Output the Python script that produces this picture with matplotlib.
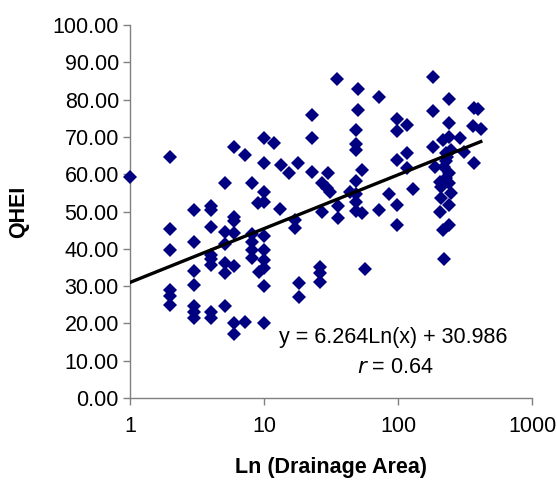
import matplotlib
matplotlib.use("Agg")
import matplotlib.pyplot as plt
import numpy as np

# Drainage area (sq. mi.) and QHEI score
drainage_area = [
    1,
    2, 2, 2, 2, 2, 2,
    3, 3, 3, 3, 3, 3, 3,
    4, 4, 4, 4, 4, 4, 4, 4,
    5.1, 5.1, 5.1, 5.1, 5.1, 5.1,
    6, 6, 6, 6, 6, 6, 6,
    7.2, 7.2,
    8.2, 8.2, 8.2, 8.2, 8.2,
    9, 9.2,
    10, 10, 10, 10, 10, 10, 10, 10, 10, 10,
    11.9, 13.2, 13.4, 15.4, 17, 17, 17.8, 18.3, 18.3,
    22.9, 22.9, 22.9, 26.3, 26.3, 26.3, 27, 27, 29.7, 30, 31,
    34.8, 35.6, 35.6, 43.5,
    49, 49, 49, 49, 49, 49, 49, 50, 50,
    53.9, 53.9, 57, 72.6, 72.6, 86,
    98, 98, 98, 98, 98,
    117, 117, 117, 130,
    183, 183, 183, 188, 205, 205, 210, 210,
    216, 216, 222, 222, 229, 230, 230, 232,
    239, 239, 239, 242, 242, 242, 242, 250, 250,
    288, 312, 360, 372, 372, 394, 415,
]
qhei = [
    59.2,
    64.5, 45.2, 39.7, 29.0, 27.3, 25.0,
    50.4, 41.9, 34.1, 30.3, 24.7, 23.1, 21.4,
    51.5, 50.4, 45.8, 38.3, 37.3, 35.7, 23.1, 21.4,
    57.6, 44.6, 41.3, 36.3, 33.4, 24.7,
    67.4, 48.6, 47.4, 44.3, 35.4, 20.0, 17.1,
    65.1, 20.5,
    57.6, 44.1, 41.9, 39.7, 37.5,
    52.2, 33.9,
    69.6, 62.9, 55.3, 52.6, 43.4, 39.7, 37.0, 34.8, 30.0, 20.0,
    68.3, 50.6, 62.5, 60.2, 47.7, 45.5, 62.9, 30.7, 27.0,
    75.9, 69.6, 60.7, 35.0, 33.4, 31.2, 57.6, 50.0, 56.2, 60.2, 55.3,
    85.4, 51.5, 48.2, 55.3,
    71.8, 68.1, 66.5, 58.1, 54.7, 52.6, 50.2, 82.8, 77.2,
    61.0, 49.5, 34.5, 80.6, 50.4, 54.8,
    74.7, 71.6, 63.8, 51.7, 46.4,
    73.1, 65.6, 61.6, 55.9,
    86.0, 77.0, 67.4, 62.0, 58.0, 50.0, 56.7, 53.5,
    69.2, 45.0, 62.0, 37.2, 65.6, 63.5, 59.0, 64.5,
    80.2, 73.8, 69.9, 60.2, 57.6, 51.7, 46.4, 66.5, 55.0,
    69.6, 66.0, 72.8, 77.7, 62.9, 77.4, 72.0,
]

slope = 6.264
intercept = 30.986
x_ticks = [1, 10, 100, 1000]
x_tick_labels = ["1", "10", "100", "1000"]
y_ticks = [0, 10, 20, 30, 40, 50, 60, 70, 80, 90, 100]

plt.rcParams['font.family'] = ['Liberation Sans', 'DejaVu Sans']

fig = plt.figure(figsize=(5.57, 4.82), dpi=100)
ax = fig.add_axes([130/557, 1-398/482, (532-130)/557, (398-25)/482])

ax.plot(drainage_area, qhei, linestyle='none', marker='D', markersize=7,
        color='#000080', markeredgewidth=0, zorder=3, clip_on=False)

xf = np.linspace(np.log(1), np.log(max(drainage_area)), 50)
ax.plot(np.exp(xf), slope * xf + intercept, color='black', linewidth=2.4, zorder=4)

ax.set_xscale('log')
ax.set_xlim(1, 1000)
ax.set_ylim(0, 100)
ax.set_xticks(x_ticks)
ax.set_xticklabels(x_tick_labels)
ax.xaxis.set_minor_locator(matplotlib.ticker.NullLocator())
ax.set_yticks(y_ticks)
ax.set_yticklabels([f"{v:.2f}" for v in y_ticks])

for s in ['top', 'right']:
    ax.spines[s].set_visible(False)
for s in ['left', 'bottom']:
    ax.spines[s].set_color('#808080')
    ax.spines[s].set_linewidth(1.0)
ax.tick_params(axis='both', direction='out', length=5, width=1.0, color='#808080',
               labelsize=15.5, labelcolor='black')
ax.tick_params(axis='x', pad=8)
ax.tick_params(axis='y', pad=3)

ax.set_xlabel("Ln (Drainage Area)", fontsize=15.5, fontweight='bold', labelpad=14)
ax.set_ylabel("QHEI", fontsize=15.5, fontweight='bold', labelpad=17)

ax.text(0.654, 0.161, "y = 6.264Ln(x) + 30.986", transform=ax.transAxes,
        ha='center', va='center', fontsize=15.5)
ax.text(0.659, 0.083, r"$\it{r}$ = 0.64", transform=ax.transAxes,
        ha='center', va='center', fontsize=15.5)

fig.savefig("out.png", dpi=100)
